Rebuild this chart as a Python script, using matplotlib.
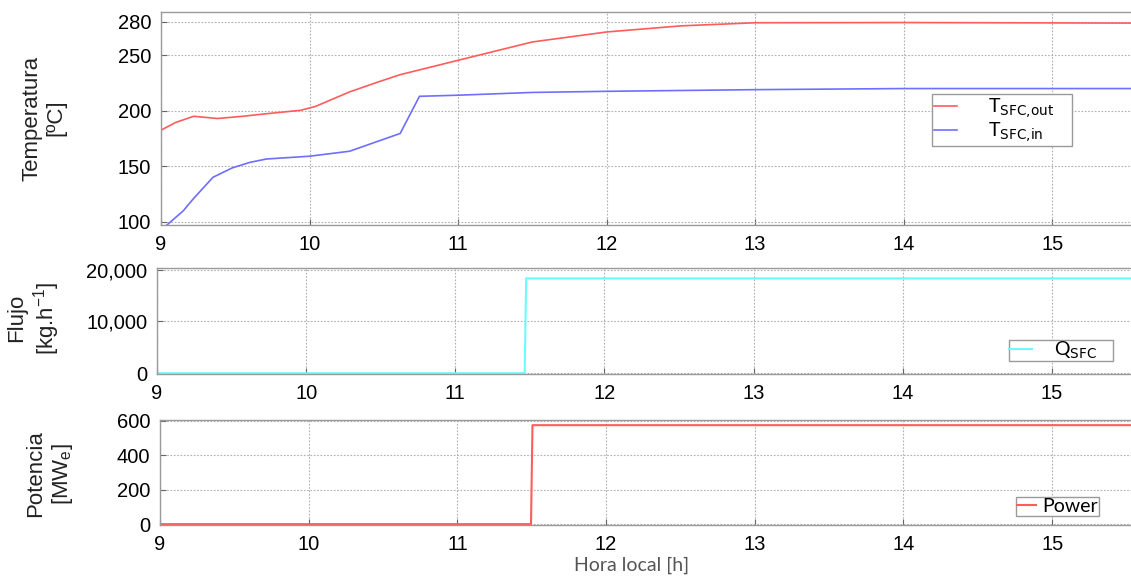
import matplotlib
matplotlib.use("Agg")
import matplotlib.pyplot as plt
from matplotlib.ticker import FuncFormatter

# ---- data ----
t_out_time = [9.01, 9.10, 9.22, 9.38, 9.55, 9.71, 9.94, 10.04, 10.27, 10.47, 10.61,
              11.01, 11.5, 12.0, 12.5, 13.0, 14.0, 15.53]
t_out_vals = [183.2, 189.5, 195.0, 193.0, 195.0, 197.3, 200.4, 203.9, 217.0, 226.3, 232.5,
              245.8, 262.0, 271.0, 276.5, 279.3, 279.5, 279.0]

t_in_time = [9.04, 9.15, 9.22, 9.35, 9.48, 9.60, 9.71, 10.0, 10.27, 10.45, 10.61,
             10.74, 11.0, 11.5, 12.0, 13.0, 14.0, 15.53]
t_in_vals = [97.0, 109.8, 121.0, 140.0, 148.5, 153.5, 156.5, 159.0, 163.5, 172.0, 179.5,
             213.0, 214.0, 216.5, 217.5, 219.0, 220.0, 220.0]

flow_time = [9.0, 11.465, 11.475, 15.53]
flow_vals = [0, 0, 18300, 18300]

power_time = [9.0, 11.495, 11.505, 15.53]
power_vals = [0, 0, 575, 575]

x_ticks = [9, 10, 11, 12, 13, 14, 15]
temp_ticks = [100, 150, 200, 250, 280]
flow_ticks = [0, 10000, 20000]
power_ticks = [0, 200, 400, 600]

# ---- style ----
RED = "#ff5c5c"
BLUE = "#6e6eff"
CYAN = "#6afcfc"
TICKFONT = "Liberation Sans"
W, H = 1131, 576
fig = plt.figure(figsize=(W / 100, H / 100), dpi=100)


def box(l, t, r, b):
    return [l / W, 1 - b / H, (r - l) / W, (b - t) / H]


ax1 = fig.add_axes(box(161, 12, 1131, 225))
ax2 = fig.add_axes(box(157, 268, 1131, 374))
ax3 = fig.add_axes(box(160, 420, 1131, 525))

for ax in (ax1, ax2, ax3):
    ax.set_xlim(9, 15.53)
    ax.set_xticks(x_ticks)
    ax.grid(True, color="#b0b0b0", linestyle=(0, (1.5, 1.5)), linewidth=0.8)
    ax.tick_params(direction="in", length=4, color="#666666", labelsize=14.5,
                   pad=7)
    for s in ax.spines.values():
        s.set_color("#9a9a9a")
        s.set_linewidth(1.0)
    ax.spines["right"].set_visible(False)

ax1.plot(t_out_time, t_out_vals, color=RED, lw=1.2, label=r"T$_{\mathrm{SFC{,}out}}$    ")
ax1.plot(t_in_time, t_in_vals, color=BLUE, lw=1.2, label=r"T$_{\mathrm{SFC{,}in}}$")
ax1.set_ylim(97, 289)
ax1.set_yticks(temp_ticks)

ax2.plot(flow_time, flow_vals, color=CYAN, lw=1.5, label=r"Q$_{\mathrm{SFC}}$    ")
ax2.set_ylim(-150, 20300)
ax2.set_yticks(flow_ticks)
ax2.yaxis.set_major_formatter(FuncFormatter(lambda v, p: f"{int(v):,}"))

ax3.plot(power_time, power_vals, color=RED, lw=1.5, label="Power")
ax3.set_ylim(-5, 605)
ax3.set_yticks(power_ticks)

for ax in (ax1, ax2, ax3):
    for lab in ax.get_xticklabels() + ax.get_yticklabels():
        lab.set_fontfamily(TICKFONT)

# legends
leg_kw = dict(frameon=True, fancybox=False, edgecolor="#9a9a9a", framealpha=1,
              prop={"family": "Lato", "size": 14}, borderaxespad=0,
              bbox_transform=fig.transFigure, loc="upper left")
l1 = ax1.legend(bbox_to_anchor=(932 / W, 1 - 94 / H), handlelength=1.2,
                handletextpad=1.6, borderpad=0.1, labelspacing=0.0, **leg_kw)
l2 = ax2.legend(bbox_to_anchor=(1009 / W, 1 - 340 / H), handlelength=1.2,
                handletextpad=1.1, borderpad=0.0, **leg_kw)
l3 = ax3.legend(bbox_to_anchor=(1016 / W, 1 - 497 / H), handlelength=1.0,
                handletextpad=0.3, borderpad=0.05, **leg_kw)
for l in (l1, l2, l3):
    l.get_frame().set_linewidth(1.0)

# axis labels
lab_kw = dict(rotation=90, ha="center", va="center", multialignment="center",
              family=TICKFONT, fontsize=16, color="#222222")
fig.text(44 / W, 1 - 118 / H, "Temperatura\n[ºC]", **lab_kw)
fig.text(34 / W, 1 - 318 / H, "Flujo\n[kg.h$^{\\mathregular{-1}}$]", **lab_kw)
fig.text(50 / W, 1 - 474 / H, "Potencia\n[MW$_{\\mathregular{e}}$]", **lab_kw)
fig.text(632 / W, 1 - 565 / H, "Hora local [h]", ha="center", va="center",
         family="Lato", fontsize=14, color="#555555")

fig.savefig("out.png", dpi=100)
